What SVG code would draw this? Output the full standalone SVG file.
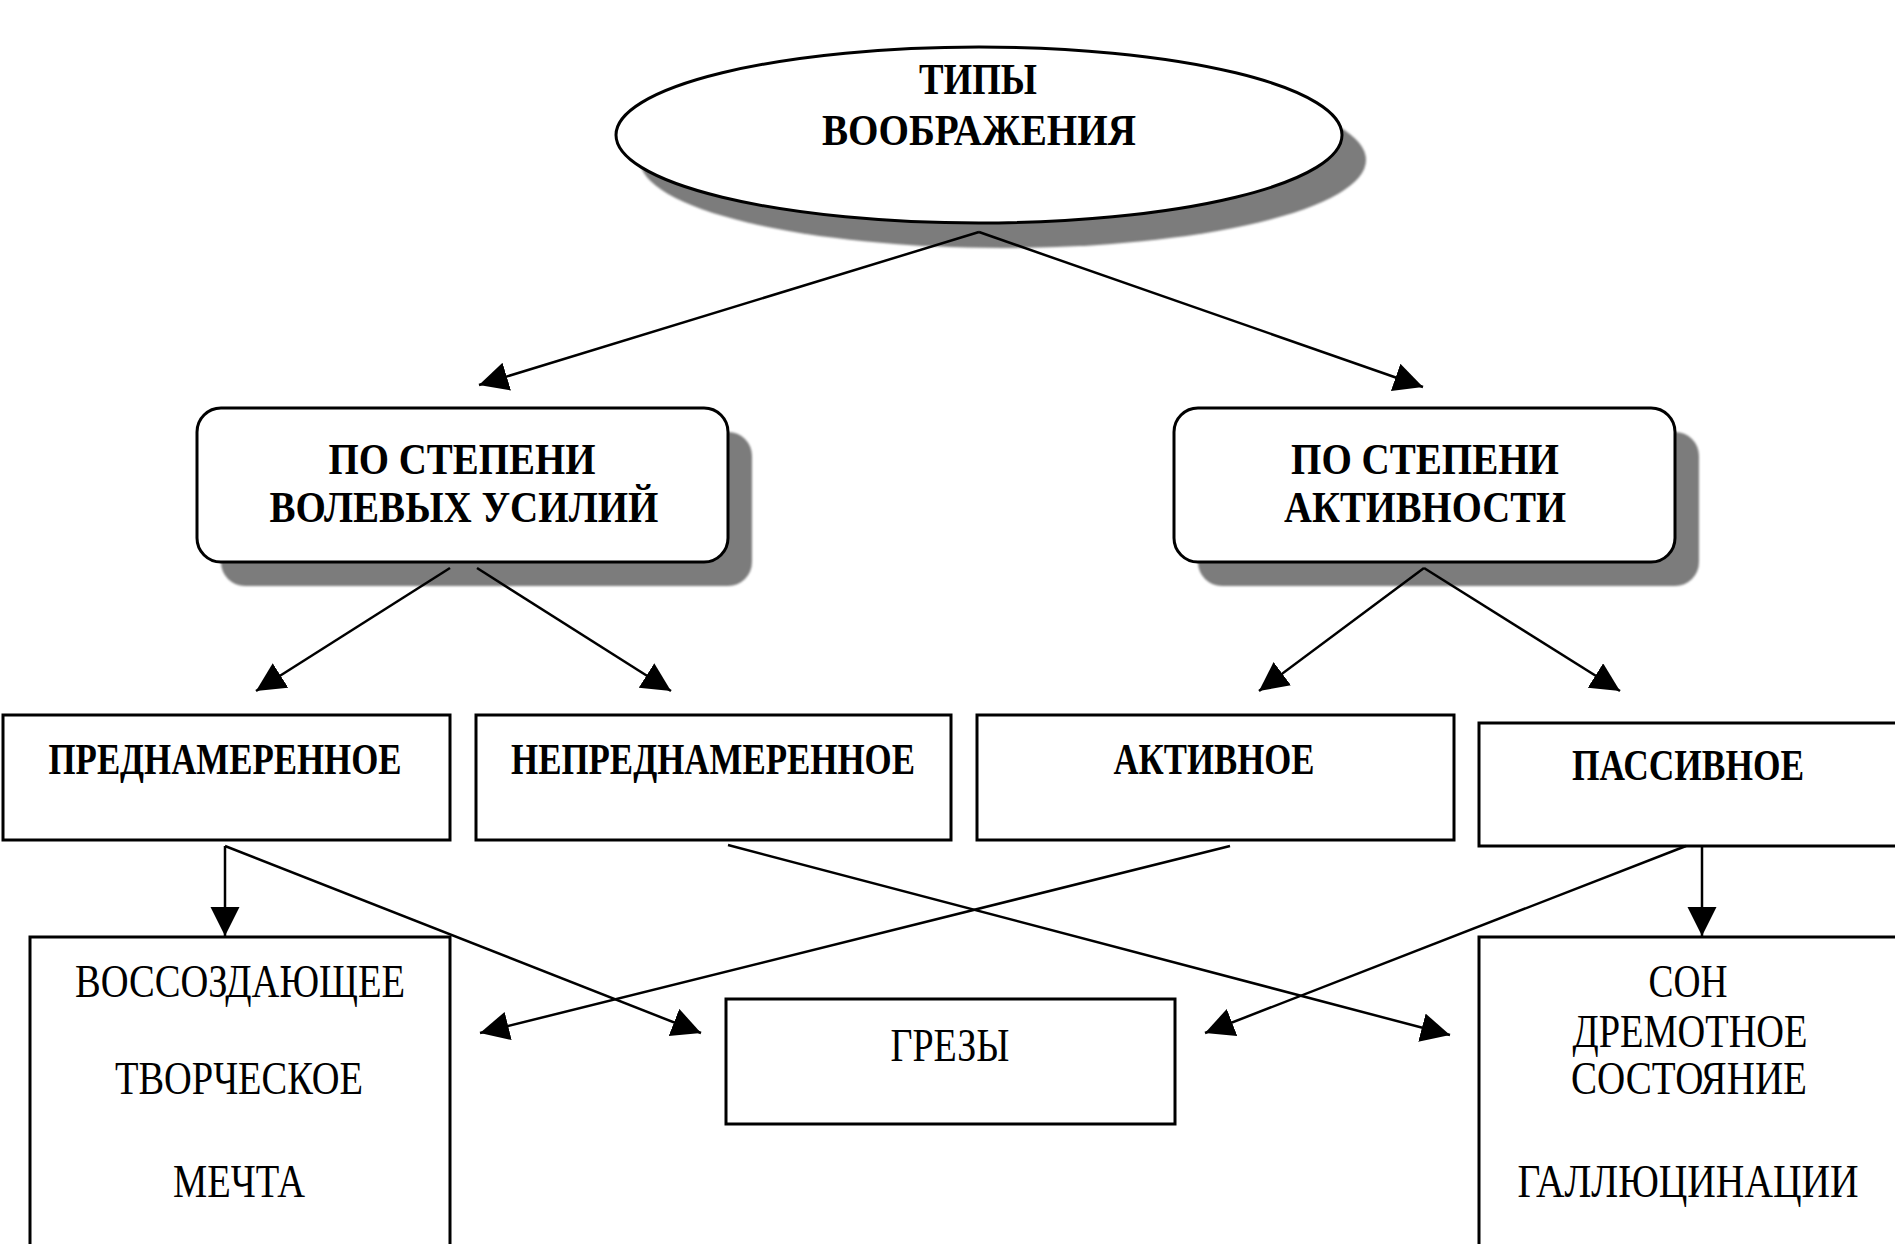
<svg xmlns="http://www.w3.org/2000/svg" width="1895" height="1244" viewBox="0 0 1895 1244">
<style>
.shadow{fill:#7c7c7c;stroke:none}
.node{fill:#fff;stroke:#000;stroke-width:3}
.b{font-family:"Liberation Serif","Times New Roman",serif;font-weight:bold;font-size:45px;fill:#000}
.r{font-family:"Liberation Serif","Times New Roman",serif;font-size:47px;fill:#000}
.c line{stroke:#000;stroke-width:2.5;marker-end:url(#ah)}
</style>
<defs>
<marker id="ah" markerUnits="userSpaceOnUse" markerWidth="30" markerHeight="30" refX="29" refY="14.5" orient="auto" viewBox="0 0 30 30">
<path d="M0,0 L29,14.5 L0,29 z" fill="#000"/>
</marker>
<filter id="soft" x="-5%" y="-5%" width="110%" height="110%"><feGaussianBlur stdDeviation="1.2"/></filter>
</defs>
<rect width="1895" height="1244" fill="#fff"/>

<g id="root">
<ellipse class="shadow" filter="url(#soft)" cx="1003" cy="160" rx="363" ry="88"/>
<ellipse class="node" cx="979" cy="135" rx="363" ry="88"/>
<text class="b" x="978" y="94" text-anchor="middle" textLength="118" lengthAdjust="spacingAndGlyphs">ТИПЫ</text>
<text class="b" x="979" y="145" text-anchor="middle" textLength="314" lengthAdjust="spacingAndGlyphs">ВООБРАЖЕНИЯ</text>
</g>

<g id="n-volevye">
<rect class="shadow" filter="url(#soft)" x="221" y="432" width="531" height="154" rx="24"/>
<rect class="node" x="197" y="408" width="531" height="154" rx="24"/>
<text class="b" x="462" y="474" text-anchor="middle" textLength="267" lengthAdjust="spacingAndGlyphs">ПО СТЕПЕНИ</text>
<text class="b" x="464" y="522" text-anchor="middle" textLength="389" lengthAdjust="spacingAndGlyphs">ВОЛЕВЫХ УСИЛИЙ</text>
</g>

<g id="n-aktivnost">
<rect class="shadow" filter="url(#soft)" x="1198" y="432" width="501" height="154" rx="24"/>
<rect class="node" x="1174" y="408" width="501" height="154" rx="24"/>
<text class="b" x="1425" y="474" text-anchor="middle" textLength="268" lengthAdjust="spacingAndGlyphs">ПО СТЕПЕНИ</text>
<text class="b" x="1425" y="522" text-anchor="middle" textLength="282" lengthAdjust="spacingAndGlyphs">АКТИВНОСТИ</text>
</g>

<g id="n-prednam">
<rect class="node" x="3" y="715" width="447" height="125"/>
<text class="b" x="225" y="774" text-anchor="middle" textLength="353" lengthAdjust="spacingAndGlyphs">ПРЕДНАМЕРЕННОЕ</text>
</g>

<g id="n-neprednam">
<rect class="node" x="476" y="715" width="475" height="125"/>
<text class="b" x="713" y="774" text-anchor="middle" textLength="404" lengthAdjust="spacingAndGlyphs">НЕПРЕДНАМЕРЕННОЕ</text>
</g>

<g id="n-aktivnoe">
<rect class="node" x="977" y="715" width="477" height="125"/>
<text class="b" x="1214" y="774" text-anchor="middle" textLength="201" lengthAdjust="spacingAndGlyphs">АКТИВНОЕ</text>
</g>

<g id="n-passivnoe">
<rect class="node" x="1479" y="723" width="430" height="123"/>
<text class="b" x="1688" y="780" text-anchor="middle" textLength="232" lengthAdjust="spacingAndGlyphs">ПАССИВНОЕ</text>
</g>

<g id="n-vossozd">
<rect class="node" x="30" y="937" width="420" height="330"/>
<text class="r" x="240" y="997" text-anchor="middle" textLength="330" lengthAdjust="spacingAndGlyphs">ВОССОЗДАЮЩЕЕ</text>
<text class="r" x="239" y="1094" text-anchor="middle" textLength="248" lengthAdjust="spacingAndGlyphs">ТВОРЧЕСКОЕ</text>
<text class="r" x="239" y="1197" text-anchor="middle" textLength="132" lengthAdjust="spacingAndGlyphs">МЕЧТА</text>
</g>

<g id="n-grezy">
<rect class="node" x="726" y="999" width="449" height="125"/>
<text class="r" x="950" y="1061" text-anchor="middle" textLength="119" lengthAdjust="spacingAndGlyphs">ГРЕЗЫ</text>
</g>

<g id="n-son">
<rect class="node" x="1479" y="937" width="430" height="330"/>
<text class="r" x="1688" y="997" text-anchor="middle" textLength="79" lengthAdjust="spacingAndGlyphs">СОН</text>
<text class="r" x="1690" y="1047" text-anchor="middle" textLength="235" lengthAdjust="spacingAndGlyphs">ДРЕМОТНОЕ</text>
<text class="r" x="1689" y="1094" text-anchor="middle" textLength="236" lengthAdjust="spacingAndGlyphs">СОСТОЯНИЕ</text>
<text class="r" transform="translate(1688,1197) scale(0.84,1)" x="0" y="0" text-anchor="middle" textLength="406" lengthAdjust="spacingAndGlyphs">ГАЛЛЮЦИНАЦИИ</text>
</g>

<g id="connectors" class="c">
<line x1="979" y1="232" x2="479" y2="385"/>
<line x1="979" y1="232" x2="1423" y2="387"/>
<line x1="450" y1="568" x2="256" y2="691"/>
<line x1="477" y1="568" x2="671" y2="691"/>
<line x1="1424" y1="568" x2="1259" y2="691"/>
<line x1="1424" y1="568" x2="1620" y2="691"/>
<line x1="225" y1="846" x2="225" y2="936"/>
<line x1="225" y1="846" x2="701" y2="1033"/>
<line x1="728" y1="845" x2="1450" y2="1035"/>
<line x1="1230" y1="846" x2="480" y2="1033"/>
<line x1="1686" y1="846" x2="1205" y2="1033"/>
<line x1="1702" y1="846" x2="1702" y2="936"/>
</g>
</svg>
